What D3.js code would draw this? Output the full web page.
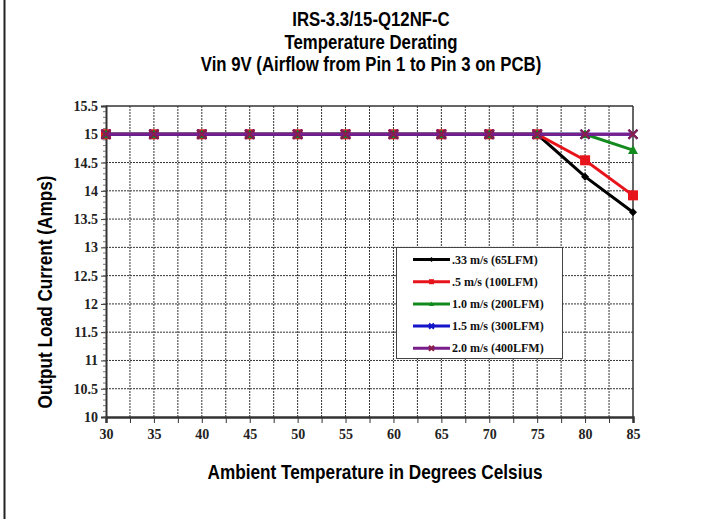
<!DOCTYPE html>
<html><head><meta charset="utf-8">
<script src="https://cdn.jsdelivr.net/npm/d3@7"></script>
<style>body{margin:0;background:#fff}svg{display:block}</style>
</head><body><svg id="c" width="709" height="519"></svg>
<script>
const titles = ["IRS-3.3/15-Q12NF-C", "Temperature Derating", "Vin 9V (Airflow from Pin 1 to Pin 3 on PCB)"];
const xTitle = "Ambient Temperature in Degrees Celsius";
const yTitle = "Output Load Current (Amps)";
const temps = [30, 35, 40, 45, 50, 55, 60, 65, 70, 75, 80, 85];
const xTicks = [30, 35, 40, 45, 50, 55, 60, 65, 70, 75, 80, 85];
const yTicks = [10, 10.5, 11, 11.5, 12, 12.5, 13, 13.5, 14, 14.5, 15, 15.5];
const seriesNames = [".33 m/s (65LFM)", ".5 m/s (100LFM)", "1.0 m/s (200LFM)", "1.5 m/s (300LFM)", "2.0 m/s (400LFM)"];
const s033 = [15, 15, 15, 15, 15, 15, 15, 15, 15, 15, 14.25, 13.62];
const s05  = [15, 15, 15, 15, 15, 15, 15, 15, 15, 15, 14.54, 13.92];
const s10  = [15, 15, 15, 15, 15, 15, 15, 15, 15, 15, 15, 14.72];
const s15  = [15, 15, 15, 15, 15, 15, 15, 15, 15, 15, 15, 15];
const s20  = [15, 15, 15, 15, 15, 15, 15, 15, 15, 15, 15, 15];
const seriesValues = [s033, s05, s10, s15, s20];
const colors = ["#000000", "#e8141b", "#138a1e", "#1414c8", "#7a1e8c"];
const markerColors = ["#000000", "#e8141b", "#138a1e", "#1414c8", "#8a1f4a"];
const markers = ["diamond", "square", "triangle", "x", "x"];

const svg = d3.select("#c");
const m = {l: 106, r: 633, t: 106, b: 417};
const x = d3.scaleLinear().domain([30, 85]).range([m.l, m.r]);
const y = d3.scaleLinear().domain([10, 15.5]).range([m.b, m.t]);

// left page border
svg.append("line").attr("x1", 4.5).attr("x2", 4.5).attr("y1", 0).attr("y2", 519).attr("stroke", "#222").attr("stroke-width", 2);

// titles (condensed look via horizontal scale)
const tf = "'Liberation Sans','Arial',sans-serif";
svg.selectAll("text.title").data(titles).enter().append("text")
  .attr("transform", (d, i) => `translate(371,${26 + i * 22.5}) scale(0.86,1)`)
  .attr("text-anchor", "middle").attr("font-family", tf).attr("font-weight", "bold")
  .style("font-size", "19.5px").attr("fill", "#000").text(d => d);

// gridlines
const xGrid = d3.range(32.5, 85, 2.5);
svg.append("g").selectAll("line").data(xGrid).enter().append("line")
  .attr("x1", d => x(d)).attr("x2", d => x(d)).attr("y1", m.t).attr("y2", m.b)
  .attr("stroke", "#333").attr("stroke-width", 1).attr("stroke-dasharray", "2,1");
svg.append("g").selectAll("line").data(yTicks.filter(v => v > 10 && v < 15.5)).enter().append("line")
  .attr("x1", m.l).attr("x2", m.r).attr("y1", d => y(d)).attr("y2", d => y(d))
  .attr("stroke", "#333").attr("stroke-width", 1).attr("stroke-dasharray", "2,1");

// frame
svg.append("line").attr("x1", m.l).attr("x2", m.r).attr("y1", m.t).attr("y2", m.t).attr("stroke", "#333").attr("stroke-width", 1.5);
svg.append("line").attr("x1", m.r).attr("x2", m.r).attr("y1", m.t).attr("y2", m.b).attr("stroke", "#333").attr("stroke-width", 1.5);

// axes
const sf = "'Liberation Serif','Times New Roman',serif";
const xAxis = d3.axisBottom(x).tickValues(d3.range(30, 85.1, 2.5)).tickSize(6)
  .tickFormat(d => xTicks.includes(d) ? d : "");
const gx = svg.append("g").attr("transform", `translate(0,${m.b})`).call(xAxis);
gx.attr("font-size", null).attr("font-family", null);
gx.select(".domain").attr("stroke", "#333").attr("stroke-width", 2.5);
gx.selectAll(".tick line").attr("stroke", "#333");
gx.selectAll("text").style("font-family", sf).style("font-weight", "bold").style("font-size", "14px").attr("fill", "#222").attr("dy", "0.95em");

const yAxis = d3.axisLeft(y).tickValues(yTicks).tickSize(5).tickFormat(d => d);
const gy = svg.append("g").attr("transform", `translate(${m.l},0)`).call(yAxis);
gy.attr("font-size", null).attr("font-family", null);
gy.select(".domain").attr("stroke", "#333").attr("stroke-width", 2);
gy.selectAll(".tick line").attr("stroke", "#333");
gy.selectAll("text").style("font-family", sf).style("font-weight", "bold").style("font-size", "14px").attr("fill", "#222");
// minor y ticks
svg.append("g").selectAll("line").data(d3.range(10, 15.51, 0.1)).enter().append("line")
  .attr("x1", m.l - 3).attr("x2", m.l).attr("y1", d => y(d)).attr("y2", d => y(d))
  .attr("stroke", "#555").attr("stroke-width", 0.8);

// axis titles
svg.append("text").attr("transform", "translate(375,479) scale(0.86,1)").attr("text-anchor", "middle")
  .attr("font-family", tf).attr("font-weight", "bold").style("font-size", "20px").text(xTitle);
svg.append("text").attr("transform", "translate(52,292) rotate(-90) scale(0.86,1)").attr("text-anchor", "middle")
  .attr("font-family", tf).attr("font-weight", "bold").style("font-size", "20px").text(yTitle);

function marker(g, type, cx, cy, color, s) {
  if (type === "diamond") {
    g.append("path").attr("d", `M${cx},${cy - s}L${cx + s},${cy}L${cx},${cy + s}L${cx - s},${cy}Z`).attr("fill", color);
  } else if (type === "square") {
    g.append("rect").attr("x", cx - s).attr("y", cy - s).attr("width", 2 * s).attr("height", 2 * s).attr("fill", color);
  } else if (type === "triangle") {
    g.append("path").attr("d", `M${cx},${cy - s}L${cx + s},${cy + s * 0.8}L${cx - s},${cy + s * 0.8}Z`).attr("fill", color);
  } else {
    g.append("path").attr("d", `M${cx - s},${cy - s}L${cx + s},${cy + s}M${cx - s},${cy + s}L${cx + s},${cy - s}`)
      .attr("stroke", color).attr("stroke-width", 2.2).attr("fill", "none");
  }
}

// series
const line = d3.line().x((d, i) => x(temps[i])).y(d => y(d));
const sizes = [4, 5, 5, 4.5, 4.5];
seriesValues.forEach((vals, k) => {
  const g = svg.append("g");
  g.append("path").datum(vals).attr("d", line).attr("fill", "none")
    .attr("stroke", colors[k]).attr("stroke-width", 3);
  vals.forEach((v, i) => marker(g, markers[k], x(temps[i]), y(v), markerColors[k], sizes[k]));
});

// legend
const lg = svg.append("g");
lg.append("rect").attr("x", 396.5).attr("y", 247.5).attr("width", 166).attr("height", 111)
  .attr("fill", "#fff").attr("stroke", "#444").attr("stroke-width", 1);
seriesNames.forEach((n, k) => {
  const yy = 259.5 + k * 22.2;
  lg.append("line").attr("x1", 413).attr("x2", 450).attr("y1", yy).attr("y2", yy)
    .attr("stroke", colors[k]).attr("stroke-width", 3);
  marker(lg, markers[k], 431.5, yy, markerColors[k], 2.5);
  lg.append("text").attr("x", 452).attr("y", yy + 4).attr("font-family", sf).attr("font-weight", "bold")
    .style("font-size", "12px").attr("fill", "#111").text(n);
});
</script></body></html>
